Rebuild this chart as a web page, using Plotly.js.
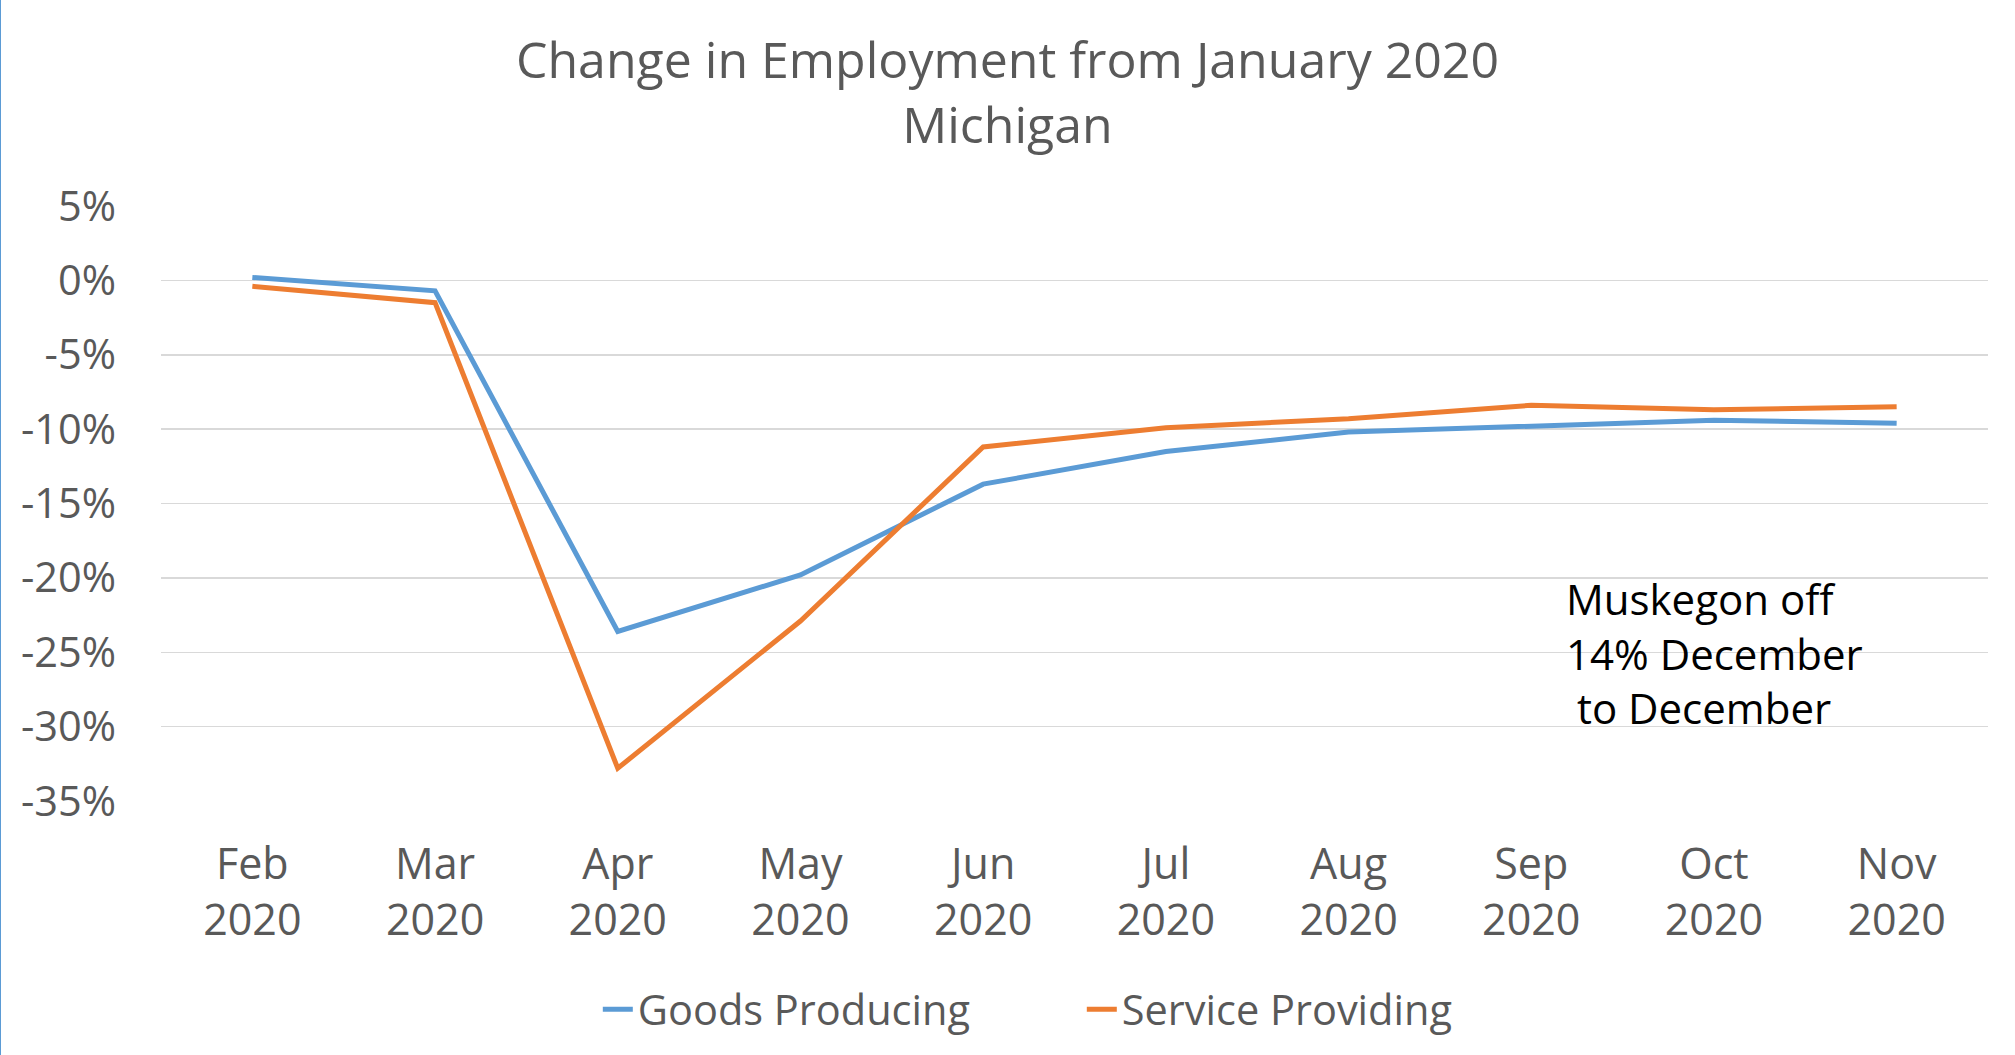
<!DOCTYPE html>
<html>
<head>
<meta charset="utf-8">
<script src="https://cdn.plot.ly/plotly-3.0.1.min.js"></script>
<style>
  html, body { margin: 0; padding: 0; background: #fff; }
  #chart { width: 2015px; height: 1055px; }
  #edge { position: absolute; left: 0; top: 0; width: 1px; height: 1055px; background: #5b9bd5; }
</style>
</head>
<body>
<div id="chart"></div>
<div id="edge"></div>
<script>
const months = ["Feb<br>2020", "Mar<br>2020", "Apr<br>2020", "May<br>2020", "Jun<br>2020",
                "Jul<br>2020", "Aug<br>2020", "Sep<br>2020", "Oct<br>2020", "Nov<br>2020"];
const goodsProducing = [0.002, -0.007, -0.236, -0.198, -0.137, -0.115, -0.102, -0.098, -0.094, -0.096];
const serviceProviding = [-0.004, -0.015, -0.328, -0.229, -0.112, -0.099, -0.093, -0.084, -0.087, -0.085];
const yTicks = [0.05, 0, -0.05, -0.10, -0.15, -0.20, -0.25, -0.30, -0.35];
const yTickLabels = ["5%", "0%", "-5%", "-10%", "-15%", "-20%", "-25%", "-30%", "-35%"];
const noteText = "Muskegon off<br>14% December<br>&nbsp;to December";

const textColor = "#595959";
const fontFam = "'Open Sans', 'Noto Sans', sans-serif";

const traces = [
  {
    x: months, y: goodsProducing, type: "scatter", mode: "lines",
    name: "Goods Producing",
    line: { color: "#5b9bd5", width: 5 }
  },
  {
    x: months, y: serviceProviding, type: "scatter", mode: "lines",
    name: "Service Providing",
    line: { color: "#ed7d31", width: 5 }
  }
];

const layout = {
  width: 2015, height: 1055,
  paper_bgcolor: "#ffffff", plot_bgcolor: "#ffffff",
  margin: { l: 161, r: 27, t: 206, b: 254 },
  font: { family: fontFam, color: textColor, size: 40 },
  title: {
    text: "Change in Employment from January 2020<br>Michigan",
    font: { family: fontFam, size: 50, color: textColor },
    x: 0.5, xanchor: "center", xref: "container",
    y: 0.926, yanchor: "middle", yref: "container"
  },
  xaxis: {
    type: "category",
    range: [-0.5, months.length - 0.5],
    showgrid: false, zeroline: false, showline: false,
    ticks: "", ticklabelstandoff: 34,
    tickfont: { size: 43, color: textColor }
  },
  yaxis: {
    range: [-0.35, 0.05],
    tickvals: yTicks,
    ticktext: yTickLabels,
    showgrid: true, gridcolor: "#d9d9d9", gridwidth: 1.5,
    zeroline: false, showline: false, ticks: "",
    ticklabelstandoff: 44,
    tickfont: { size: 41.5, color: textColor }
  },
  showlegend: true,
  legend: {
    orientation: "h",
    x: 0.504, xanchor: "center", xref: "paper",
    y: -0.35, yanchor: "middle", yref: "paper",
    font: { size: 41.5, color: textColor },
    entrywidth: 439, entrywidthmode: "pixels",
    bgcolor: "rgba(0,0,0,0)"
  },
  annotations: [
    {
      text: noteText,
      xref: "paper", yref: "paper",
      x: 0.768, xanchor: "left",
      y: 0.248, yanchor: "middle",
      align: "left", showarrow: false,
      font: { family: fontFam, size: 42, color: "#000000" }
    }
  ]
};

Plotly.newPlot("chart", traces, layout, { displayModeBar: false, staticPlot: true });
</script>
</body>
</html>
